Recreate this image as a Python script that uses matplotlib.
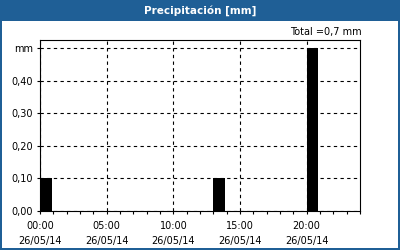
import matplotlib
matplotlib.use("Agg")
import matplotlib.pyplot as plt
from matplotlib.patches import Rectangle
from matplotlib.ticker import MultipleLocator

# Data (hourly precipitation, mm)
hours = [0, 13, 20]
values = [0.1, 0.1, 0.5]
total_label = "Total =0,7 mm"
title = "Precipitación [mm]"
xticks = [0, 5, 10, 15, 20]
xlabels = ["00:00\n26/05/14", "05:00\n26/05/14", "10:00\n26/05/14",
           "15:00\n26/05/14", "20:00\n26/05/14"]
yticks = [0.0, 0.1, 0.2, 0.3, 0.4, 0.5]
ylabels = ["0,00", "0,10", "0,20", "0,30", "0,40", "mm"]

blue = "#1f5f96"
W, H = 400, 250

fig = plt.figure(figsize=(4, 2.5), dpi=100)
fig.patch.set_facecolor("white")

# title bar and frame
fig.patches.append(Rectangle((0, 1 - 21 / H), 1, 21 / H, transform=fig.transFigure,
                             facecolor=blue, edgecolor="none", zorder=0))
fig.patches.append(Rectangle((0, 0), 2 / W, 1, transform=fig.transFigure,
                             facecolor=blue, edgecolor="none", zorder=0))
fig.patches.append(Rectangle((1 - 2 / W, 0), 2 / W, 1, transform=fig.transFigure,
                             facecolor=blue, edgecolor="none", zorder=0))
fig.patches.append(Rectangle((0, 0), 1, 2 / H, transform=fig.transFigure,
                             facecolor=blue, edgecolor="none", zorder=0))
fig.text(0.5, 1 - 10.5 / H, title, color="white", fontsize=7.5, fontweight="bold",
         ha="center", va="center")

ax = fig.add_axes([40 / W, (H - 211) / H, 320 / W, 171 / H])
ax.bar(hours, values, width=0.88, align="edge", color="black", zorder=3)
ax.set_xlim(0, 24)
ax.set_ylim(0, 0.525)

ax.set_xticks(xticks)
ax.set_xticklabels(xlabels, fontsize=7, linespacing=1.7)
ax.xaxis.set_minor_locator(MultipleLocator(1))
ax.set_yticks(yticks)
ax.set_yticklabels(ylabels, fontsize=7)
ax.tick_params(axis="both", which="both", direction="out", length=2, width=0.8,
               colors="black")
ax.tick_params(axis="x", pad=5)
ax.tick_params(axis="y", pad=3)

ax.grid(True, which="major", color="black", linestyle=(0, (3, 3)), linewidth=0.8)
for s in ax.spines.values():
    s.set_linewidth(0.8)
    s.set_color("black")

fig.text(362 / W, 1 - 32 / H, total_label, fontsize=7, ha="right", va="center")

fig.savefig("out.png", dpi=100)
